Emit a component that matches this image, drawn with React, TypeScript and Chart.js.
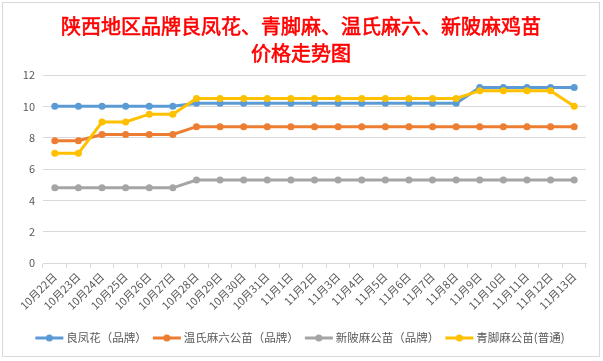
import React, { useEffect, useRef } from "react";
import { Chart, registerables } from "chart.js";

Chart.register(...registerables);

const categories = [
  "10月22日", "10月23日", "10月24日", "10月25日", "10月26日", "10月27日",
  "10月28日", "10月29日", "10月30日", "10月31日", "11月1日", "11月2日",
  "11月3日", "11月4日", "11月5日", "11月6日", "11月7日", "11月8日",
  "11月9日", "11月10日", "11月11日", "11月12日", "11月13日",
];

const liangfenghua = [10, 10, 10, 10, 10, 10, 10.2, 10.2, 10.2, 10.2, 10.2, 10.2, 10.2, 10.2, 10.2, 10.2, 10.2, 10.2, 11.2, 11.2, 11.2, 11.2, 11.2];
const wenshi = [7.8, 7.8, 8.2, 8.2, 8.2, 8.2, 8.7, 8.7, 8.7, 8.7, 8.7, 8.7, 8.7, 8.7, 8.7, 8.7, 8.7, 8.7, 8.7, 8.7, 8.7, 8.7, 8.7];
const xinling = [4.8, 4.8, 4.8, 4.8, 4.8, 4.8, 5.3, 5.3, 5.3, 5.3, 5.3, 5.3, 5.3, 5.3, 5.3, 5.3, 5.3, 5.3, 5.3, 5.3, 5.3, 5.3, 5.3];
const qingjiao = [7, 7, 9, 9, 9.5, 9.5, 10.5, 10.5, 10.5, 10.5, 10.5, 10.5, 10.5, 10.5, 10.5, 10.5, 10.5, 10.5, 11, 11, 11, 11, 10];

const seriesNames = ["良凤花（品牌）", "温氏麻六公苗（品牌）", "新陂麻公苗（品牌）", "青脚麻公苗(普通)"];
const seriesColors = ["#5B9BD5", "#ED7D31", "#A5A5A5", "#FFC000"];
const titleLines = ["陕西地区品牌良凤花、青脚麻、温氏麻六、新陂麻鸡苗", "价格走势图"];

const FONT = '"Noto Sans CJK SC", "Noto Sans", sans-serif';

const decorPlugin = {
  id: "decor",
  beforeDraw(chart: any) {
    const ctx = chart.ctx;
    ctx.save();
    ctx.fillStyle = "#ffffff";
    ctx.fillRect(0, 0, chart.width, chart.height);
    ctx.strokeStyle = "#d9d9d9";
    ctx.lineWidth = 1;
    ctx.strokeRect(2.5, 2.5, 597, 354);
    ctx.restore();
  },
  afterDraw(chart: any) {
    const ctx = chart.ctx;
    ctx.save();
    // title
    ctx.fillStyle = "#FF0000";
    ctx.strokeStyle = "#FF0000";
    ctx.lineWidth = 0.6;
    ctx.font = `20px ${FONT}`;
    ctx.textAlign = "center";
    ctx.textBaseline = "middle";
    ctx.fillText(titleLines[0], 301, 26);
    ctx.strokeText(titleLines[0], 301, 26);
    ctx.fillText(titleLines[1], 301, 53);
    ctx.strokeText(titleLines[1], 301, 53);
    // legend
    ctx.font = `11.5px ${FONT}`;
    ctx.textAlign = "left";
    const lineLen = 28;
    const gapLT = 3;
    const gapItem = 6;
    const widths = seriesNames.map((n) => ctx.measureText(n).width);
    let total = 0;
    widths.forEach((w, i) => {
      total += lineLen + gapLT + w + (i < widths.length - 1 ? gapItem : 0);
    });
    let x = 300 - total / 2;
    const y = 338;
    seriesNames.forEach((n, i) => {
      ctx.strokeStyle = seriesColors[i];
      ctx.fillStyle = seriesColors[i];
      ctx.lineWidth = 3;
      ctx.beginPath();
      ctx.moveTo(x, y);
      ctx.lineTo(x + lineLen, y);
      ctx.stroke();
      ctx.beginPath();
      ctx.arc(x + lineLen / 2, y, 3.5, 0, Math.PI * 2);
      ctx.fill();
      ctx.fillStyle = "#595959";
      ctx.fillText(n, x + lineLen + gapLT, y);
      x += lineLen + gapLT + widths[i] + gapItem;
    });
    ctx.restore();
  },
};

export default function App() {
  const ref = useRef<HTMLCanvasElement | null>(null);
  useEffect(() => {
    if (!ref.current) return;
    const all = [liangfenghua, wenshi, xinling, qingjiao];
    const chart = new Chart(ref.current, {
      type: "line",
      data: {
        labels: categories,
        datasets: all.map((d, i) => ({
          label: seriesNames[i],
          data: d,
          borderColor: seriesColors[i],
          backgroundColor: seriesColors[i],
          borderWidth: 3,
          pointRadius: 3.5,
          pointBorderWidth: 0,
          pointBackgroundColor: seriesColors[i],
          tension: 0,
          order: 3 - i,
          fill: false,
        })),
      },
      options: {
        animation: false,
        responsive: false,
        devicePixelRatio: 1,
        layout: { padding: { left: 0, top: 75, right: 17, bottom: 0 } },
        plugins: {
          legend: { display: false },
          title: { display: false },
          tooltip: { enabled: false },
        },
        scales: {
          x: {
            offset: true,
            afterFit: (s: any) => { s.height = 98; },
            grid: {
              display: true,
              drawOnChartArea: false,
              drawTicks: true,
              tickLength: 5,
              offset: true,
              color: "#d9d9d9",
            },
            border: { display: true, color: "#d9d9d9", width: 1 },
            ticks: {
              autoSkip: false,
              minRotation: 45,
              maxRotation: 45,
              color: "#595959",
              padding: 2,
              font: { family: FONT, size: 11 },
            },
          },
          y: {
            min: 0,
            max: 12,
            afterFit: (s: any) => { s.width = 43; },
            grid: { color: "#d9d9d9", drawTicks: false },
            border: { display: false },
            ticks: {
              stepSize: 2,
              color: "#595959",
              padding: 8,
              font: { family: FONT, size: 11 },
            },
          },
        },
      },
      plugins: [decorPlugin],
    });
    return () => chart.destroy();
  }, []);
  return (
    <div style={{ position: "absolute", left: 0, top: 0, width: 603, height: 361 }}>
      <canvas ref={ref} width={603} height={361} style={{ width: 603, height: 361 }} />
    </div>
  );
}
